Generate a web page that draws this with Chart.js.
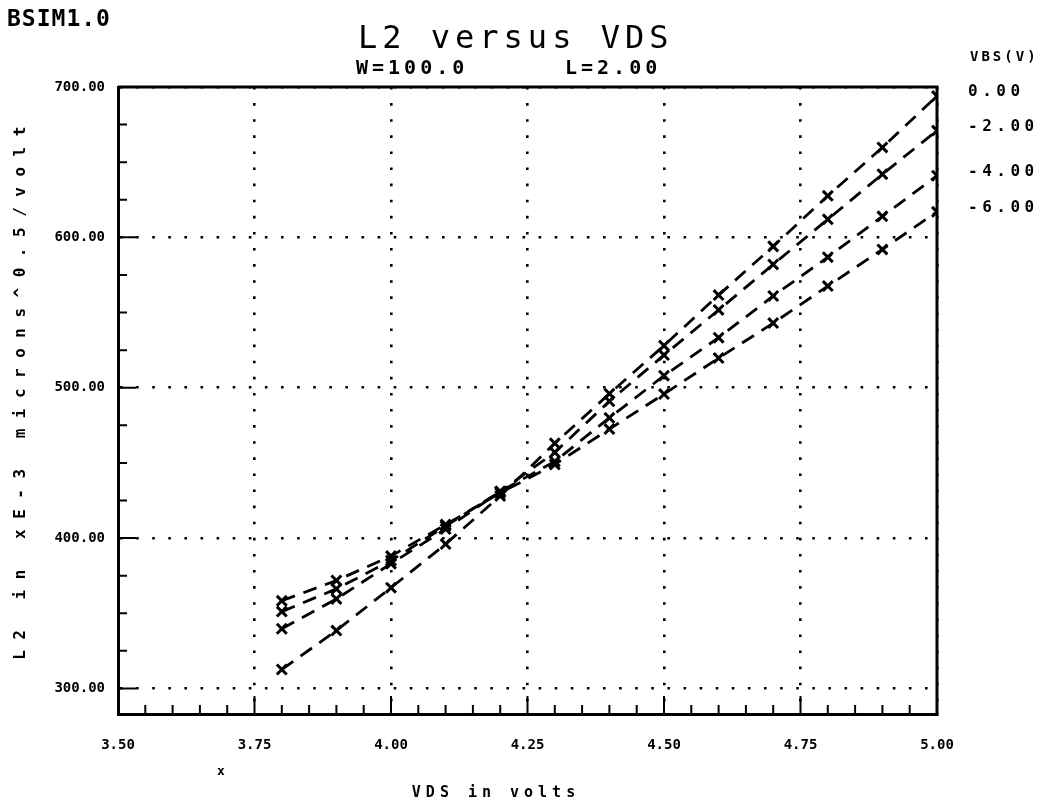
<!DOCTYPE html>
<html>
<head>
<meta charset="utf-8">
<script src="https://cdn.jsdelivr.net/npm/chart.js@4.4.1/dist/chart.umd.min.js"></script>
<style>
  html, body { margin: 0; padding: 0; background: #fff; }
</style>
</head>
<body>
<canvas id="myChart" width="1046" height="807"></canvas>
<script>
var vds = [3.8, 3.9, 4.0, 4.1, 4.2, 4.3, 4.4, 4.5, 4.6, 4.7, 4.8, 4.9, 5.0];
var l2_vbs0 = [312.6, 338.5, 367, 396, 428, 463, 496, 528, 561.6, 594, 627.6, 659.8, 694];
var l2_vbs2 = [339.7, 359.5, 383, 406, 431, 457, 491, 521.7, 551.7, 582, 612, 642, 671];
var l2_vbs4 = [351.1, 366.2, 385, 408, 431, 451, 480, 508, 533.3, 561, 586.8, 614, 641];
var l2_vbs6 = [358.3, 371.8, 388, 409, 430, 449, 472.5, 495.8, 519.7, 543, 567.6, 592, 617];
var vbsLabels = ['0.00', '-2.00', '-4.00', '-6.00'];
var xTicks = [3.5, 3.75, 4.0, 4.25, 4.5, 4.75, 5.0];
var yTicks = [300, 400, 500, 600, 700];

var mono = '"DejaVu Sans Mono", "Liberation Mono", monospace';
var ctx = document.getElementById('myChart').getContext('2d');

function toPoints(ys) {
  return vds.map(function (x, i) { return { x: x, y: ys[i] }; });
}

function makeSet(ys, label) {
  return {
    label: label,
    data: toPoints(ys),
    showLine: true,
    borderColor: '#000',
    borderWidth: 2.8,
    borderDash: [14, 9],
    pointStyle: 'crossRot',
    pointRadius: 7,
    pointBorderWidth: 3,
    pointBorderColor: '#000',
    pointBackgroundColor: '#000',
    fill: false,
    tension: 0
  };
}

// frame, inward ticks and all the plotter text
var decor = {
  id: 'decor',
  afterDraw: function (chart) {
    var c = chart.ctx;
    var a = chart.chartArea;
    var xs = chart.scales.x, ys = chart.scales.y;
    c.save();
    c.strokeStyle = '#000';
    c.fillStyle = '#000';

    // top and right edges of the box
    c.lineWidth = 3;
    c.beginPath();
    c.moveTo(a.left, a.top);
    c.lineTo(a.right, a.top);
    c.lineTo(a.right, a.bottom);
    c.stroke();

    // minor ticks
    c.lineWidth = 2;
    c.beginPath();
    for (var i = 0; i <= 30; i++) {
      var px = xs.getPixelForValue(3.5 + i * 0.05);
      var len = (i % 5 === 0) ? 18 : 9;
      c.moveTo(px, a.bottom);
      c.lineTo(px, a.bottom - len);
    }
    for (var j = 0; j <= 16; j++) {
      var py = ys.getPixelForValue(300 + j * 25);
      var ln = (j % 4 === 0) ? 18 : 9;
      c.moveTo(a.left, py);
      c.lineTo(a.left + ln, py);
    }
    c.stroke();

    c.textBaseline = 'middle';
    c.textAlign = 'left';

    // header
    c.font = 'bold 23px ' + mono;
    c.letterSpacing = '1px';
    c.fillText('BSIM1.0', 7, 20);

    c.font = '32px ' + mono;
    c.letterSpacing = '5px';
    c.fillText('L2 versus VDS', 358, 40);

    c.font = 'bold 20px ' + mono;
    c.letterSpacing = '4px';
    c.fillText('W=100.0', 356, 69);
    c.fillText('L=2.00', 565, 69);

    // series labels at the right
    c.font = 'bold 14px ' + mono;
    c.letterSpacing = '3px';
    c.fillText('VBS(V)', 970, 57);
    c.font = 'bold 16px ' + mono;
    c.letterSpacing = '4.5px';
    chart.data.datasets.forEach(function (ds, k) {
      var last = ds.data[ds.data.length - 1];
      var y = ys.getPixelForValue(last.y) - 4;
      c.fillText(vbsLabels[k], 968, y);
    });

    // axis titles
    c.font = 'bold 15px ' + mono;
    c.letterSpacing = '5px';
    c.textAlign = 'center';
    c.fillText('VDS in volts', 496, 793);

    c.save();
    c.translate(21, 388);
    c.rotate(-Math.PI / 2);
    c.font = 'bold 16px ' + mono;
    c.letterSpacing = '10.5px';
    c.fillText('L2 in xE-3 microns^0.5/volt', 0, 0);
    c.restore();

    c.font = 'bold 13px ' + mono;
    c.letterSpacing = '0px';
    c.fillText('x', 221, 772);

    c.restore();
  }
};

var myChart = new Chart(ctx, {
  type: 'scatter',
  data: {
    datasets: [
      makeSet(l2_vbs0, vbsLabels[0]),
      makeSet(l2_vbs2, vbsLabels[1]),
      makeSet(l2_vbs4, vbsLabels[2]),
      makeSet(l2_vbs6, vbsLabels[3])
    ]
  },
  options: {
    responsive: false,
    animation: false,
    devicePixelRatio: 1,
    layout: { padding: { top: 87, right: 109, left: 0, bottom: 0 } },
    plugins: {
      legend: { display: false },
      tooltip: { enabled: false }
    },
    scales: {
      x: {
        type: 'linear',
        min: 3.5,
        max: 5.0,
        afterBuildTicks: function (s) { s.ticks = xTicks.map(function (v) { return { value: v }; }); },
        afterFit: function (s) { s.height = 93; },
        ticks: {
          color: '#000',
          padding: 23,
          maxRotation: 0,
          autoSkip: false,
          font: { family: mono, size: 14, weight: 'bold' },
          callback: function (v) { return Number(v).toFixed(2); }
        },
        grid: { color: '#000', lineWidth: 2.6, drawTicks: false },
        border: { display: true, color: '#000', width: 3, dash: [2.6, 13.5] }
      },
      y: {
        type: 'linear',
        min: 283,
        max: 700,
        afterBuildTicks: function (s) { s.ticks = yTicks.map(function (v) { return { value: v }; }); },
        afterFit: function (s) { s.width = 118; },
        ticks: {
          color: '#000',
          padding: 13,
          autoSkip: false,
          font: { family: mono, size: 14, weight: 'bold' },
          callback: function (v) { return Number(v).toFixed(2); }
        },
        grid: { color: '#000', lineWidth: 2.6, drawTicks: false },
        border: { display: true, color: '#000', width: 3, dash: [2.6, 13.5] }
      }
    }
  },
  plugins: [decor]
});
</script>
</body>
</html>
